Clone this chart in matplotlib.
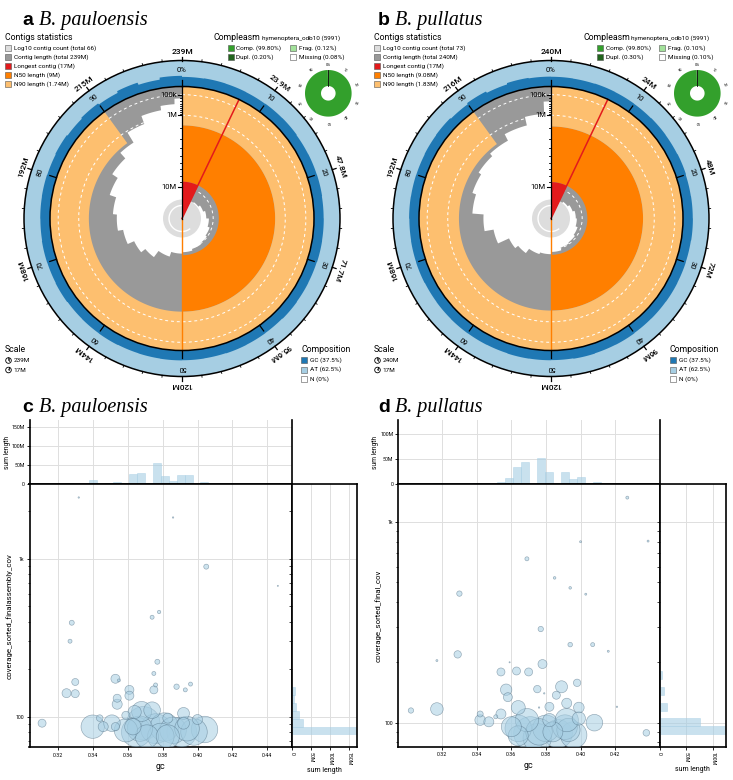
import numpy as np
import matplotlib

matplotlib.use("Agg")
import matplotlib.pyplot as plt  # noqa: E402
from matplotlib.patches import Circle, Polygon, Rectangle  # noqa: E402
from matplotlib.ticker import LogLocator, NullFormatter  # noqa: E402

W, H = 733, 780
plt.rcParams["font.family"] = ["Roboto", "DejaVu Sans"]

GRAY, LGRAY = "#999999", "#dddddd"
RED, ORANGE, PALE = "#e31a1c", "#ff7f00", "#fdbf6f"
GC_BLUE, AT_BLUE = "#1f78b4", "#a6cee3"
COMP, DUPL, FRAG = "#33a02c", "#20641c", "#a3e29b"
PT_FACE = (0.651, 0.808, 0.890, 0.55)
PT_EDGE = (0.30, 0.42, 0.50, 0.55)
SERIF = ["Liberation Serif", "DejaVu Serif"]
SANS_B = ["Liberation Sans", "DejaVu Sans"]

# assembly summaries (Mb)
pau_total, pul_total = 239.0, 240.0
pau_count, pul_count = 66, 73
pau_longest, pul_longest = 17.0, 17.0
pau_n50, pul_n50 = 9.0, 9.08
pau_n90, pul_n90 = 1.74, 1.83
pau_gc, pul_gc = 37.5, 37.5
pau_compleasm = [99.80, 0.20, 0.12, 0.08]  # comp, dupl, frag, missing
pul_compleasm = [99.80, 0.30, 0.10, 0.10]

# contig length (Mb) at cumulative % of assembly (snail spiral)
pau_cum_pct = [0, 7.1, 10, 15, 20, 25, 30, 35, 40, 45, 50, 55, 60, 64, 68, 72, 76, 80, 84, 88, 91, 94, 97, 99]
pau_cum_len = [17.0, 12.3, 12.1, 11.7, 11.3, 10.8, 10.4, 10.1, 9.85, 9.55, 9.3, 8.45, 7.2, 6.4,
               5.4, 4.7, 4.2, 3.4, 2.7, 2.0, 1.1, 0.6, 0.4, 0.2]
pul_cum_pct = [0, 7.1, 10, 15, 20, 25, 30, 35, 40, 45, 50, 55, 60, 64, 68, 72, 76, 80, 84, 88, 92, 96, 99]
pul_cum_len = [17.0, 12.3, 12.0, 11.6, 11.2, 11.0, 10.6, 10.3, 10.1, 9.6, 9.2, 8.9, 8.0, 7.4,
               5.6, 4.4, 3.1, 2.7, 2.4, 2.1, 1.5, 0.9, 0.3]

# GC fraction per 2.5% window
pau_gc_win = [0.37, 0.38, 0.375, 0.37, 0.38, 0.385, 0.37, 0.375, 0.38, 0.37,
              0.375, 0.38, 0.37, 0.375, 0.385, 0.37, 0.375, 0.38, 0.37, 0.375,
              0.38, 0.375, 0.37, 0.38, 0.375, 0.37, 0.385, 0.375, 0.38, 0.37,
              0.375, 0.38, 0.37, 0.39, 0.36, 0.40, 0.35, 0.42, 0.33, 0.41]
pul_gc_win = [0.375, 0.37, 0.38, 0.375, 0.37, 0.38, 0.375, 0.385, 0.37, 0.375,
              0.38, 0.37, 0.375, 0.38, 0.375, 0.37, 0.38, 0.375, 0.385, 0.37,
              0.375, 0.38, 0.37, 0.375, 0.38, 0.375, 0.37, 0.38, 0.375, 0.37,
              0.38, 0.375, 0.37, 0.38, 0.39, 0.36, 0.41, 0.35, 0.40, 0.38]

pau_ring_labels = ["239M", "23.9M", "47.8M", "71.7M", "95.6M", "120M", "144M", "168M", "192M", "215M"]
pul_ring_labels = ["240M", "24M", "48M", "72M", "96M", "120M", "144M", "168M", "192M", "216M"]
axis_lengths = [10.0, 1.0, 0.1]
axis_labels = ["10M", "1M", "100k"]

# blob plot: contigs (gc, coverage, length Mb)
pau_pt_gc = [0.311, 0.332, 0.386, 0.405, 0.446, 0.328, 0.327, 0.374, 0.378, 0.377, 0.375, 0.376,
             0.375, 0.388, 0.393, 0.396, 0.353, 0.355, 0.330, 0.325, 0.330, 0.361, 0.361, 0.354,
             0.354, 0.340, 0.344, 0.351, 0.353, 0.359, 0.363, 0.364, 0.368, 0.369, 0.365, 0.374,
             0.376, 0.379, 0.383, 0.386, 0.392, 0.392, 0.391, 0.398, 0.400, 0.404, 0.383, 0.371,
             0.359, 0.346, 0.381, 0.394, 0.367]
pau_pt_cov = [91, 2450, 1830, 893, 675, 394, 301, 427, 461, 223, 188, 159, 148, 155, 148, 161,
              174, 170, 166, 141, 140, 148, 136, 131, 120, 86.5, 98, 91, 86.5, 102, 86.5, 107,
              108, 91, 80, 110, 84, 75, 98, 82, 91, 105, 80, 80, 96, 83, 75, 75, 82, 86.5, 86,
              84, 84]
pau_pt_len = [0.95, 0.03, 0.03, 0.37, 0.02, 0.37, 0.24, 0.24, 0.17, 0.37, 0.24, 0.24, 0.95, 0.43,
              0.24, 0.24, 1.2, 0.13, 0.73, 1.2, 0.95, 1.2, 1.2, 0.95, 1.5, 8.1, 0.65, 4.1, 1.0,
              1.0, 4.0, 2.6, 5.9, 16.4, 13.2, 4.1, 13.2, 10.4, 1.5, 10.4, 2.1, 2.1, 13.2, 10.4,
              1.5, 10.4, 8.0, 8.0, 8.0, 1.5, 12.0, 9.0, 9.5]
pul_pt_gc = [0.427, 0.400, 0.439, 0.369, 0.385, 0.394, 0.330, 0.403, 0.377, 0.394, 0.407, 0.416,
             0.329, 0.317, 0.359, 0.378, 0.354, 0.363, 0.370, 0.357, 0.358, 0.375, 0.389, 0.398,
             0.386, 0.379, 0.392, 0.399, 0.382, 0.364, 0.376, 0.302, 0.317, 0.342, 0.342, 0.347,
             0.351, 0.354, 0.421, 0.438, 0.408, 0.360, 0.364, 0.369, 0.371, 0.376, 0.380, 0.382,
             0.392, 0.393, 0.396, 0.384, 0.364, 0.399, 0.387, 0.375, 0.391]
pul_pt_cov = [1324, 798, 804, 656, 527, 470, 440, 437, 293, 245, 245, 227, 219, 204, 200, 196,
              179, 181, 179, 146, 134, 147, 151, 158, 137, 140, 125, 119, 120, 119, 119, 115,
              117, 110.5, 103, 101, 107, 110.5, 120, 89, 100, 95.5, 93.7, 103, 88.5, 90, 93.7,
              103, 103, 92, 86.8, 90, 86, 105, 88, 84, 95]
pul_pt_len = [0.13, 0.06, 0.06, 0.24, 0.1, 0.1, 0.43, 0.06, 0.43, 0.31, 0.24, 0.06, 0.81, 0.06,
              0.02, 1.2, 0.95, 0.95, 0.95, 1.93, 1.2, 0.81, 2.14, 0.81, 0.95, 0.03, 1.49, 1.67,
              1.2, 2.9, 0.03, 0.43, 2.36, 0.54, 1.67, 1.49, 0.24, 1.49, 0.03, 0.65, 4.1, 5.9,
              10.4, 8.0, 16.4, 10.4, 10.4, 2.6, 8.0, 8.0, 10.4, 5.9, 5.9, 2.6, 12.0, 12.0, 9.0]

# sum length (Mb) per GC bin (left edges) and per coverage bin (edges)
pau_gc_bin_lo = [0.3103, 0.3149, 0.3240, 0.3378, 0.3469, 0.3515, 0.3560, 0.3606, 0.3652,
                 0.3697, 0.3743, 0.3789, 0.3835, 0.3880, 0.3926, 0.3972, 0.4017]
pau_gc_bin_sum = [1.5, 1.0, 3.5, 11, 4, 6, 3.5, 27, 29, 3.5, 56, 21.5, 9.5, 25, 25, 2, 7]
pul_gc_bin_lo = [0.3150, 0.3242, 0.3380, 0.3426, 0.3472, 0.3518, 0.3564, 0.3610, 0.3656,
                 0.3748, 0.3794, 0.3886, 0.3932, 0.3978, 0.4070, 0.4346]
pul_gc_bin_sum = [2.6, 1.0, 2.0, 1.3, 1.3, 4.0, 12.5, 34, 45, 51, 25, 24, 10.5, 14.5, 4.0, 0.5]
pau_cov_edges = [77.3, 86.7, 97.3, 109.1, 122.5, 137.4, 154.2]
pau_cov_sum = [171, 29, 17, 11, 4, 7]
pul_cov_edges = [87.5, 95.8, 105.0, 114.9, 125.9, 137.9, 151.0, 165.3, 181.1]
pul_cov_sum = [135, 75, 0, 13.3, 0, 7.6, 0, 5]

R_IN, R_OUT = 132.0, 158.0
RAD_REF, RAD_EXP = 16.4, 0.545
SIZE_K = 35.0
LEG_FS = 4.6


def len_to_r(L):
    return R_IN * np.clip(1 - (np.asarray(L, float) / RAD_REF) ** RAD_EXP, 0, 1)


def pt(cx, cy, r, f):
    a = 2 * np.pi * np.asarray(f)
    return cx + r * np.sin(a), cy - r * np.cos(a)


def ring_poly(cx, cy, f, r_in, r_out):
    f = np.asarray(f, float)
    r_in = np.broadcast_to(r_in, f.shape)
    r_out = np.broadcast_to(r_out, f.shape)
    xo, yo = pt(cx, cy, r_out, f)
    xi, yi = pt(cx, cy, r_in, f)
    return np.column_stack([np.r_[xo, xi[::-1]], np.r_[yo, yi[::-1]]])


def fill(ax, cx, cy, f, r_in, r_out, color, z):
    ax.add_patch(Polygon(ring_poly(cx, cy, f, r_in, r_out), closed=True, fc=color, ec="none", zorder=z))


def steps(f, knots_pct, values):
    idx = np.searchsorted(np.asarray(knots_pct) / 100.0, f, side="right") - 1
    return np.asarray(values)[np.clip(idx, 0, len(values) - 1)]


def snail(ax, cx, cy, total, longest, n50, n90, cum_pct, cum_len, gc_win, ring_labels):
    f = np.linspace(0, 1, 2401)
    fill(ax, cx, cy, f, 0, R_IN, GRAY, 1)
    fill(ax, cx, cy, np.linspace(0, 0.5, 400), len_to_r(n50), len_to_r(n90), ORANGE, 2)
    fill(ax, cx, cy, np.linspace(0, 0.9, 700), len_to_r(n90), R_IN, PALE, 2)
    fill(ax, cx, cy, f, 0, len_to_r(steps(f, cum_pct, cum_len)), "white", 3)
    ax.add_patch(Circle((cx, cy), 19, fc=LGRAY, ec="none", zorder=4))
    x, y = pt(cx, cy, 13, np.linspace(0.4, 1.0, 200))
    ax.plot(x, y, color="white", lw=1.0, zorder=5)
    for r in len_to_r(axis_lengths):
        ax.add_patch(Circle((cx, cy), r, fill=False, ec="white", lw=0.7, ls=(0, (3, 3)), zorder=5))
    fl = longest / total
    fill(ax, cx, cy, np.linspace(0, fl, 60), 0, len_to_r(n50), RED, 6)
    x, y = pt(cx, cy, np.array([0, R_IN]), fl)
    ax.plot(x, y, color=RED, lw=1.1, zorder=7)
    x, y = pt(cx, cy, np.array([0, R_IN]), 0.5)
    ax.plot(x, y, color=ORANGE, lw=1.0, zorder=7)

    # radial axis
    ax.plot([cx, cx], [cy, cy - R_IN], color="black", lw=0.9, zorder=8)
    for L, lab in zip(axis_lengths, axis_labels):
        yy = cy - len_to_r(L)
        ax.plot([cx - 4, cx], [yy, yy], color="black", lw=0.8, zorder=8)
        ax.text(cx - 5, yy, lab, fontsize=5.5, ha="right", va="center", zorder=8)
    for L in [m * d for d in (0.1, 1.0) for m in range(2, 10)]:
        yy = cy - len_to_r(L)
        ax.plot([cx - 2, cx], [yy, yy], color="black", lw=0.6, zorder=8)

    # composition ring
    fill(ax, cx, cy, f, R_IN, R_OUT, AT_BLUE, 2)
    gcv = steps(f, np.arange(len(gc_win)) * 100.0 / len(gc_win), gc_win)
    fill(ax, cx, cy, f, R_IN, R_IN + gcv * (R_OUT - R_IN), GC_BLUE, 3)
    for r in (R_IN, R_OUT):
        ax.add_patch(Circle((cx, cy), r, fill=False, ec="black", lw=1.1, zorder=9))
    for i in range(50):
        fi = i / 50
        if i % 5 == 0:
            x, y = pt(cx, cy, np.array([R_OUT, R_OUT + 4]), fi)
            ax.plot(x, y, color="black", lw=0.9, zorder=9)
            x, y = pt(cx, cy, np.array([R_IN, R_IN + 7]), fi)
            ax.plot(x, y, color="black", lw=0.9, zorder=9)
            k = i // 5
            tx, ty = pt(cx, cy, 149, fi)
            ax.text(tx, ty, "0%" if k == 0 else str(k * 10), fontsize=5.5, ha="center", va="center",
                    rotation=-360 * fi, rotation_mode="anchor", zorder=9)
            tx, ty = pt(cx, cy, 166.5, fi)
            ax.text(tx, ty, ring_labels[k], fontsize=6, ha="center", va="center", fontweight="medium",
                    rotation=-360 * fi, rotation_mode="anchor", zorder=9)
        else:
            x, y = pt(cx, cy, np.array([R_OUT, R_OUT + 2]), fi)
            ax.plot(x, y, color="black", lw=0.6, zorder=9)


def donut(ax, cx, cy, vals):
    comp, dupl, frag, miss = vals
    start = 0.0
    for v, c in [(comp - dupl, COMP), (dupl, DUPL), (frag, FRAG), (miss, "white")]:
        ff = np.linspace(start, start + v / 100.0, max(3, int(v * 4)))
        fill(ax, cx, cy, ff, 7.3, 23.3, c, 3)
        start += v / 100.0
    x, y = pt(cx, cy, np.array([7.3, 23.3]), 0)
    ax.plot(x, y, color="black", lw=0.6, zorder=4)
    for k in range(10):
        tx, ty = pt(cx, cy, 28.5, k / 10)
        ax.text(tx, ty, "0%" if k == 0 else str(k * 10), fontsize=2.8, ha="center", va="center",
                rotation=-36 * k, rotation_mode="anchor")


def swatch(ax, x, y, color, label, fs=LEG_FS):
    ax.add_patch(Rectangle((x, y - 3), 6, 6, fc=color, ec="#555555", lw=0.4, zorder=10))
    ax.text(x + 9, y, label, fontsize=fs, ha="left", va="center", zorder=10)


def legends(ax, dx, count, total, longest, n50, n90, comps, gc):
    ax.text(5 + dx, 38, "Contigs statistics", fontsize=6.3, va="center")
    items = [(LGRAY, f"Log10 contig count (total {count})"),
             (GRAY, f"Contig length (total {total:g}M)"),
             (RED, f"Longest contig ({longest:g}M)"),
             (ORANGE, f"N50 length ({n50:g}M)"),
             (PALE, f"N90 length ({n90:g}M)")]
    for i, (c, lab) in enumerate(items):
        swatch(ax, 5 + dx, 47.7 + 9.1 * i, c, lab)

    ax.text(214 + dx, 38, "Compleasm", fontsize=6.3, va="center")
    ax.text(262 + dx, 38.5, "hymenoptera_odb10 (5991)", fontsize=LEG_FS, va="center")
    swatch(ax, 227.5 + dx, 47.7, COMP, f"Comp. ({comps[0]:.2f}%)")
    swatch(ax, 290 + dx, 47.7, FRAG, f"Frag. ({comps[2]:.2f}%)")
    swatch(ax, 227.5 + dx, 56.8, DUPL, f"Dupl. ({comps[1]:.2f}%)")
    swatch(ax, 290 + dx, 56.8, "white", f"Missing ({comps[3]:.2f}%)")
    donut(ax, 328.3 + dx, 93.3, comps)

    ax.text(5 + dx, 350, "Scale", fontsize=6.3, va="center")
    for yy, lab, fr in [(360.5, f"{total:g}M", 1.0), (370, f"{longest:g}M", longest / total)]:
        ax.add_patch(Circle((8.5 + dx, yy), 2.8, fill=False, ec="black", lw=0.6, zorder=10))
        x, y = pt(8.5 + dx, yy, np.array([0, 2.8]), 0)
        ax.plot(x, y, color="black", lw=0.5, zorder=10)
        x, y = pt(8.5 + dx, yy, np.array([0, 2.8]), fr * 0.999)
        ax.plot(x, y, color="black", lw=0.5, zorder=10)
        ax.text(13.5 + dx, yy, lab, fontsize=LEG_FS, va="center")

    ax.text(301 + dx, 350, "Composition", fontsize=6.3, va="center")
    swatch(ax, 301 + dx, 360, GC_BLUE, f"GC ({gc:g}%)")
    swatch(ax, 301 + dx, 369.5, AT_BLUE, f"AT ({100 - gc:g}%)")
    swatch(ax, 301 + dx, 379, "white", "N (0%)")


def title(ax, x, y, letter, species):
    ax.text(x, y, letter, fontsize=14, fontweight="bold", family=SANS_B, va="baseline")
    ax.text(x + 17, y, species, fontsize=14.5, style="italic", family=SERIF, va="baseline")


def px_axes(fig, x0, y0, x1, y1):
    return fig.add_axes([x0 / W, 1 - y1 / H, (x1 - x0) / W, (y1 - y0) / H])


def mlabel(v):
    return "0" if v == 0 else f"{v:g}M"


def style_spines(ax, hide=()):
    for name, sp in ax.spines.items():
        sp.set_visible(name not in hide)
        sp.set_linewidth(1.2)
        sp.set_color("black")


def blob(fig, box, xlim, ylim, xticks, bin_lo, bin_w, bin_sum, top_max, top_ticks,
         cov_edges, cov_sum, side_max, side_ticks, pgc, pcov, plen, ylabel):
    x0, x1, y_top, y_mid, y_bot, x_side = box
    top = px_axes(fig, x0, y_top, x1, y_mid)
    main = px_axes(fig, x0, y_mid, x1, y_bot)
    side = px_axes(fig, x1, y_mid, x_side, y_bot)
    grid_kw = dict(color="#dedede", lw=0.7)

    top.bar(bin_lo, bin_sum, width=bin_w, align="edge", color=AT_BLUE, alpha=0.6,
            edgecolor=AT_BLUE, lw=0.5)
    top.set_xlim(xlim)
    top.set_ylim(0, top_max)
    top.set_xticks(xticks)
    top.set_yticks(top_ticks)
    top.set_yticklabels([mlabel(v) for v in top_ticks])
    top.tick_params(axis="x", labelbottom=False, length=2.5, width=0.6)
    top.tick_params(axis="y", labelsize=3.8, length=2, width=0.6, pad=1.5)
    top.set_ylabel("sum length", fontsize=4.8)
    top.yaxis.set_label_coords(-0.072, 0.5)
    top.grid(True, **grid_kw)
    top.set_axisbelow(True)
    style_spines(top, hide=("top",))

    order = np.argsort(plen)[::-1]
    main.scatter(np.asarray(pgc)[order], np.asarray(pcov)[order], s=SIZE_K * np.asarray(plen)[order],
                 fc=PT_FACE, ec=PT_EDGE, lw=0.45, zorder=3)
    main.set_yscale("log")
    main.set_xlim(xlim)
    main.set_ylim(ylim)
    main.set_xticks(xticks)
    main.set_xticklabels([f"{t:.2f}" for t in xticks])
    main.set_yticks([100, 1000])
    main.set_yticklabels(["100", "1k"])
    main.yaxis.set_minor_locator(LogLocator(base=10, subs=np.arange(2, 10)))
    main.yaxis.set_minor_formatter(NullFormatter())
    main.tick_params(labelsize=3.8, length=2.5, width=0.6, pad=1.5)
    main.tick_params(which="minor", length=1.5, width=0.5)
    main.set_xlabel("gc", fontsize=6.5, labelpad=3)
    main.set_ylabel(ylabel, fontsize=5.7)
    main.yaxis.set_label_coords(-0.065, 0.5)
    main.grid(True, which="major", **grid_kw)
    main.set_axisbelow(True)
    style_spines(main)

    lo, hi = np.asarray(cov_edges[:-1]), np.asarray(cov_edges[1:])
    side.barh(lo, cov_sum, height=hi - lo, align="edge", color=AT_BLUE, alpha=0.6,
              edgecolor=AT_BLUE, lw=0.5)
    side.set_yscale("log")
    side.set_ylim(ylim)
    side.set_xlim(0, side_max)
    side.set_yticks([100, 1000])
    side.yaxis.set_minor_locator(LogLocator(base=10, subs=np.arange(2, 10)))
    side.tick_params(axis="y", which="both", labelleft=False, length=2, width=0.5)
    side.set_xticks(side_ticks)
    side.set_xticklabels([mlabel(v) for v in side_ticks], rotation=-90)
    side.tick_params(axis="x", labelsize=3.8, length=2, width=0.6, pad=1.5)
    side.set_xlabel("sum length", fontsize=5, labelpad=1)
    side.grid(True, which="major", **grid_kw)
    side.set_axisbelow(True)
    style_spines(side)


fig = plt.figure(figsize=(W / 100, H / 100), dpi=100)
ov = fig.add_axes([0, 0, 1, 1])
ov.set_xlim(0, W)
ov.set_ylim(H, 0)
ov.axis("off")

snail(ov, 182, 218.5, pau_total, pau_longest, pau_n50, pau_n90, pau_cum_pct, pau_cum_len,
      pau_gc_win, pau_ring_labels)
snail(ov, 551, 218.5, pul_total, pul_longest, pul_n50, pul_n90, pul_cum_pct, pul_cum_len,
      pul_gc_win, pul_ring_labels)
legends(ov, 0, pau_count, pau_total, pau_longest, pau_n50, pau_n90, pau_compleasm, pau_gc)
legends(ov, 369, pul_count, pul_total, pul_longest, pul_n50, pul_n90, pul_compleasm, pul_gc)
title(ov, 22, 25, "a", "B. pauloensis")
title(ov, 378, 25, "b", "B. pullatus")
title(ov, 22, 412, "c", "B. pauloensis")
title(ov, 378, 412, "d", "B. pullatus")

blob(fig, (29.5, 292, 420, 484.3, 747, 357), (0.3038, 0.4541), (64.3, 2970),
     [0.32, 0.34, 0.36, 0.38, 0.40, 0.42, 0.44], pau_gc_bin_lo, 0.00457, pau_gc_bin_sum,
     167, [0, 50, 100, 150], pau_cov_edges, pau_cov_sum, 170, [0, 50, 100, 150],
     pau_pt_gc, pau_pt_cov, pau_pt_len, "coverage_sorted_finalassembly_cov")
blob(fig, (398.3, 659.5, 420, 484.3, 746.7, 726), (0.2947, 0.4456), (75.9, 1543),
     [0.32, 0.34, 0.36, 0.38, 0.40, 0.42], pul_gc_bin_lo, 0.0046, pul_gc_bin_sum,
     127, [0, 50, 100], pul_cov_edges, pul_cov_sum, 124, [0, 50, 100],
     pul_pt_gc, pul_pt_cov, pul_pt_len, "coverage_sorted_final_cov")

fig.savefig("out.png", dpi=100)
